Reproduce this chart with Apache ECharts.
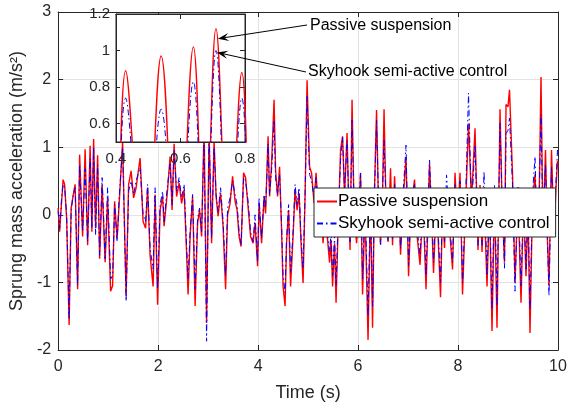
<!DOCTYPE html>
<html>
<head>
<meta charset="utf-8">
<script src="https://cdn.jsdelivr.net/npm/echarts@6/dist/echarts.min.js"></script>
<style>
  html, body { margin: 0; padding: 0; background: #fff; }
  #chart { width: 571px; height: 408px; }
</style>
</head>
<body>
<div id="chart"></div>
<script>
// time (s) at the peaks / troughs
const time = [
  0.00, 0.03, 0.07, 0.10, 0.13, 0.17, 0.22, 0.26, 0.30, 0.34, 0.39, 0.43, 0.49, 0.54, 0.59, 0.64, 0.675, 0.71, 0.75, 0.79,
  0.83, 0.88, 0.94, 0.99, 1.05, 1.09, 1.13, 1.18, 1.22, 1.29, 1.36, 1.41, 1.46, 1.51, 1.56, 1.64, 1.70, 1.75, 1.79, 1.84,
  1.90, 1.94, 1.99, 2.04, 2.09, 2.12, 2.19, 2.24, 2.28, 2.32, 2.37, 2.42, 2.47, 2.52, 2.57, 2.60, 2.64, 2.69, 2.74, 2.79,
  2.83, 2.87, 2.92, 2.97, 3.02, 3.07, 3.12, 3.16, 3.20, 3.25, 3.30, 3.35, 3.39, 3.44, 3.49, 3.54, 3.58, 3.62, 3.66, 3.71,
  3.75, 3.80, 3.85, 3.90, 3.94, 3.99, 4.02, 4.07, 4.12, 4.15, 4.20, 4.23, 4.27, 4.32, 4.35, 4.39, 4.43, 4.47, 4.50, 4.54,
  4.57, 4.61, 4.65, 4.70, 4.74, 4.78, 4.82, 4.86, 4.90, 4.94, 4.98, 5.03, 5.07, 5.12, 5.16, 5.21, 5.25, 5.30, 5.34, 5.39,
  5.43, 5.46, 5.49, 5.53, 5.56, 5.60, 5.65, 5.69, 5.73, 5.78, 5.81, 5.84, 5.88, 5.92, 5.97, 6.01, 6.05, 6.09, 6.14, 6.20,
  6.25, 6.29, 6.33, 6.37, 6.41, 6.45, 6.49, 6.52, 6.56, 6.60, 6.65, 6.69, 6.73, 6.78, 6.81, 6.85, 6.90, 6.96, 7.01, 7.06,
  7.13, 7.18, 7.24, 7.30, 7.36, 7.43, 7.48, 7.51, 7.56, 7.60, 7.65, 7.69, 7.73, 7.77, 7.82, 7.89, 7.94, 7.99, 8.04, 8.09,
  8.15, 8.21, 8.27, 8.34, 8.40, 8.44, 8.48, 8.52, 8.58, 8.63, 8.68, 8.73, 8.78, 8.84, 8.88, 8.93, 8.96, 9.00, 9.03, 9.09,
  9.14, 9.20, 9.26, 9.31, 9.36, 9.40, 9.44, 9.49, 9.54, 9.58, 9.62, 9.66, 9.70, 9.75, 9.79, 9.82, 9.87, 9.92, 9.96, 9.99,
  10.0
];
// passive suspension (m/s^2)
const passive = [
  0.10, -0.25, 0.20, 0.52, 0.45, -0.05, -1.63, 0.10, 0.28, 0.45, -1.10, 0.89, -0.32, 0.97, -0.45, 1.02, -0.25, 1.12, -0.20, 0.88,
  -0.65, 0.45, -0.70, 0.25, -1.13, -1.05, 0.20, -0.35, 0.15, 1.08, -1.20, 0.45, 0.65, 0.25, 0.40, 0.84, -0.10, -0.20, 0.40, -0.60,
  -1.06, 0.30, -1.33, 0.07, 0.27, -0.17, 0.37, 0.86, 0.07, 1.05, 0.27, 0.47, 0.17, 0.37, -0.57, -1.18, -0.32, 0.27, -1.35, -0.12,
  0.07, -0.32, 1.30, -1.60, 1.20, -0.42, 1.10, 0.27, -0.02, 0.32, -0.17, -1.10, 0.00, 0.17, 0.57, 0.20, 0.07, -0.32, -0.47, 0.62,
  0.55, 0.12, -0.32, -0.42, -0.12, -0.76, 0.17, -0.42, 0.27, 0.02, 1.16, 0.27, 0.76, 1.70, 0.66, 0.27, 0.71, -0.22, -1.06, -1.35,
  -0.42, 0.07, -1.06, -0.32, 0.37, 0.07, 0.32, -0.42, -1.01, 0.27, 1.99, 0.71, 0.62, 0.17, 0.62, 0.02, 0.27, -0.42, 0.00, -0.37,
  -0.71, -0.37, -1.06, -0.42, -1.30, -0.22, 0.96, 1.16, 0.27, 1.21, 0.27, -0.52, 1.70, 0.07, -0.42, -0.02, 0.62, -1.18, 0.10, -1.85,
  0.20, -1.67, 0.40, 1.55, 0.10, -0.44, 0.30, 1.56, 0.10, -0.40, 0.69, -0.45, 0.57, -0.20, 0.30, -0.59, 0.20, 0.85, -0.91, 0.10,
  0.52, -0.30, -0.74, 0.20, -1.10, 0.76, -0.20, -0.86, 0.10, -0.30, -1.22, 0.10, -0.49, 0.40, -0.10, -0.81, 0.62, -0.20, 0.62, -1.18,
  0.10, 1.35, 0.20, 1.28, -0.52, 0.44, -0.55, 0.30, -1.06, 0.20, -1.72, 0.30, -1.67, 1.56, 0.20, -0.70, 1.63, 1.60, 1.85, 0.60,
  -1.00, 0.30, -1.30, 0.20, -0.91, 0.10, -1.75, 0.20, 0.60, -0.30, 0.10, 2.04, -0.30, 0.96, -0.40, -1.05, 0.96, -0.30, 0.40, 0.80,
  0.70
];
// skyhook semi-active control (m/s^2)
const skyhook = [
  0.05, -0.20, 0.25, 0.45, 0.40, 0.00, -1.55, 0.05, 0.30, 0.40, -1.05, 0.74, -0.25, 0.68, -0.40, 0.83, -0.20, 1.00, -0.30, 0.74,
  -0.60, 0.55, -0.65, 0.40, -0.95, -0.90, 0.15, -0.40, 0.25, 1.00, -1.28, 0.35, 0.50, 0.30, 0.50, 0.70, 0.00, -0.10, 0.45, -0.50,
  -0.80, 0.40, -1.10, 0.15, 0.35, -0.10, 0.45, 0.75, 0.15, 0.95, 0.35, 0.55, 0.25, 0.45, -0.45, -0.95, -0.25, 0.30, -1.10, -0.05,
  0.10, -0.25, 1.15, -1.87, 1.25, -0.35, 1.00, 0.30, 0.05, 0.40, -0.10, -0.90, 0.10, 0.25, 0.50, 0.30, 0.15, -0.25, -0.45, 0.55,
  0.50, 0.20, -0.25, -0.40, 0.00, -0.70, 0.25, -0.35, 0.30, 0.10, 1.05, 0.30, 0.65, 1.40, 0.55, 0.30, 0.60, -0.15, -0.90, -1.15,
  -0.35, 0.15, -0.85, -0.25, 0.45, 0.15, 0.40, -0.35, -0.80, 0.30, 1.75, 0.60, 0.50, 0.25, 0.55, 0.10, 0.35, -0.30, 0.10, -0.30,
  -0.55, -0.25, -0.90, -0.30, -1.05, -0.10, 0.80, 1.15, 0.35, 1.10, 0.30, -0.40, 1.40, 0.15, -0.30, 0.05, 0.62, -0.95, 0.20, -1.50,
  0.25, -1.35, 0.35, 1.40, 0.20, -0.44, 0.35, 1.10, 0.20, -0.40, 0.40, -0.35, 0.45, -0.10, 0.35, -0.50, 0.30, 1.03, -0.75, 0.20,
  0.45, -0.20, -0.60, 0.25, -0.90, 0.81, -0.10, -0.70, 0.20, -0.20, -1.00, 0.20, -0.40, 0.59, 0.00, -0.70, 0.45, -0.10, 0.50, -1.00,
  0.20, 1.80, 0.10, 1.03, -0.45, 0.35, -0.45, 0.64, -0.90, 0.25, -1.40, 0.45, -1.35, 1.35, 0.25, -0.79, 1.20, 1.25, 1.43, 0.45,
  -1.13, 0.43, -1.05, 0.25, -0.80, 0.15, -1.40, 0.30, 0.86, -0.20, 0.20, 1.48, -0.20, 0.75, -0.40, -1.20, 0.70, -0.20, 0.50, 0.96,
  0.90
];
// tick labels
const mainXTicks = [0, 2, 4, 6, 8, 10];
const mainYTicks = [-2, -1, 0, 1, 2, 3];
const insetXTicks = [0.4, 0.6, 0.8];
const insetYTicks = [0.6, 0.8, 1, 1.2];

const seriesNames = ["Passive suspension", "Skyhook semi-active control"];

const passiveData = time.map((t, i) => [t, passive[i]]);
const skyhookData = time.map((t, i) => [t, skyhook[i]]);

const axisColor = "#262626";
const font = "Liberation Sans, Arial, Helvetica, sans-serif";
const dashDot = [6, 3, 1.5, 3];

// one box side of a grid: line + inward ticks, no labels
function sideAxis(gridIndex, position, min, max, ticks, z) {
  return {
    gridIndex: gridIndex,
    position: position,
    type: "value",
    min: min,
    max: max,
    z: z,
    axisLine: { show: true, onZero: false, lineStyle: { color: axisColor, width: 1 } },
    axisTick: { show: true, inside: true, length: 5, customValues: ticks, lineStyle: { color: axisColor } },
    axisLabel: { show: false },
    splitLine: { show: false },
  };
}

let myChart = echarts.init(document.getElementById("chart"), null, { renderer: "canvas" });

const option = {
  animation: false,
  backgroundColor: "#fff",
  textStyle: { fontFamily: font },
  grid: [
    { left: 57, right: 13, top: 12, bottom: 58, containLabel: false },
    // inset (zoom of 0.4 - 0.8 s)
    {
      left: 116, right: 326, top: 14, bottom: 266,
      show: true, backgroundColor: "#fff", borderColor: axisColor, borderWidth: 1, z: 10,
    },
  ],
  legend: {
    data: seriesNames,
    orient: "vertical",
    left: 314,
    top: 188,
    padding: [5, 6, 5, 2],
    itemGap: 5,
    itemWidth: 20,
    itemHeight: 14,
    // only the line sample, no marker dot
    itemStyle: { opacity: 0 },
    backgroundColor: "#fff",
    borderColor: axisColor,
    borderWidth: 1,
    borderRadius: 0,
    textStyle: { fontSize: 17, color: "#000", fontFamily: font, padding: [0, 0, 0, -4] },
    z: 20,
  },
  xAxis: [
    {
      gridIndex: 0,
      type: "value",
      min: 0,
      max: 10,
      interval: 2,
      name: "Time (s)",
      nameLocation: "middle",
      nameGap: 34,
      nameTextStyle: { fontSize: 18, color: axisColor, fontFamily: font },
      axisLine: { show: true, onZero: false, lineStyle: { color: axisColor } },
      axisTick: { show: true, inside: true, length: 5, lineStyle: { color: axisColor } },
      axisLabel: { fontSize: 16, color: axisColor, margin: 9, fontFamily: font },
      splitLine: { show: true, lineStyle: { color: "#e3e3e3", width: 1 } },
    },
    sideAxis(0, "top", 0, 10, mainXTicks, 2),
    {
      gridIndex: 1,
      type: "value",
      min: 0.4,
      max: 0.8,
      interval: 0.2,
      z: 11,
      axisLine: { show: true, onZero: false, lineStyle: { color: axisColor } },
      axisTick: { show: true, inside: true, length: 4, lineStyle: { color: axisColor } },
      axisLabel: { fontSize: 15, color: axisColor, margin: 9, fontFamily: font,
        showMinLabel: true, showMaxLabel: true, customValues: insetXTicks },
      splitLine: { show: false },
    },
    sideAxis(1, "top", 0.4, 0.8, insetXTicks, 11),
  ],
  yAxis: [
    {
      gridIndex: 0,
      type: "value",
      min: -2,
      max: 3,
      interval: 1,
      name: "Sprung mass acceleration (m/s²)",
      nameLocation: "middle",
      nameGap: 31,
      nameTextStyle: { fontSize: 18, color: axisColor, fontFamily: font },
      axisLine: { show: true, onZero: false, lineStyle: { color: axisColor } },
      axisTick: { show: true, inside: true, length: 5, lineStyle: { color: axisColor } },
      axisLabel: { fontSize: 16, color: axisColor, margin: 7, fontFamily: font },
      splitLine: { show: true, lineStyle: { color: "#e3e3e3", width: 1 } },
    },
    sideAxis(0, "right", -2, 3, mainYTicks, 2),
    {
      gridIndex: 1,
      type: "value",
      min: 0.5,
      max: 1.2,
      z: 11,
      axisLine: { show: true, onZero: false, lineStyle: { color: axisColor } },
      axisTick: { show: true, inside: true, length: 4, customValues: insetYTicks, lineStyle: { color: axisColor } },
      axisLabel: { fontSize: 15, color: axisColor, margin: 6, fontFamily: font, customValues: insetYTicks },
      splitLine: { show: false },
    },
    sideAxis(1, "right", 0.5, 1.2, insetYTicks, 11),
  ],
  series: [
    {
      name: seriesNames[0],
      type: "line",
      xAxisIndex: 0,
      yAxisIndex: 0,
      data: passiveData,
      symbol: "none",
      lineStyle: { color: "#ff0000", width: 1.4 },
      itemStyle: { color: "#ff0000" },
      z: 3,
    },
    {
      name: seriesNames[1],
      type: "line",
      xAxisIndex: 0,
      yAxisIndex: 0,
      data: skyhookData,
      symbol: "none",
      lineStyle: { color: "#0000ff", width: 1, type: dashDot },
      itemStyle: { color: "#0000ff" },
      z: 4,
    },
    // same data again, drawn inside the inset
    {
      name: seriesNames[0],
      type: "line",
      xAxisIndex: 2,
      yAxisIndex: 2,
      data: passiveData,
      symbol: "none",
      smooth: 0.4,
      clip: true,
      lineStyle: { color: "#ff0000", width: 1.4 },
      z: 12,
    },
    {
      name: seriesNames[1],
      type: "line",
      xAxisIndex: 2,
      yAxisIndex: 2,
      data: skyhookData,
      symbol: "none",
      smooth: 0.4,
      clip: true,
      lineStyle: { color: "#0000ff", width: 1, type: dashDot },
      z: 13,
    },
  ],
};

myChart.setOption(option);

// annotation arrows: heads sit on the inset peaks, tails at the texts
function arrow(tail, head) {
  const dx = head[0] - tail[0];
  const dy = head[1] - tail[1];
  const len = Math.sqrt(dx * dx + dy * dy);
  const ux = dx / len, uy = dy / len;
  const L = 11, W = 4;
  const bx = head[0] - ux * L, by = head[1] - uy * L;
  const mx = head[0] - ux * L * 0.6, my = head[1] - uy * L * 0.6;
  return [
    { type: "line", z: 30, shape: { x1: tail[0], y1: tail[1], x2: mx, y2: my },
      style: { stroke: "#000", lineWidth: 1 } },
    { type: "polygon", z: 30,
      shape: { points: [head, [bx - uy * W, by + ux * W], [mx, my], [bx + uy * W, by - ux * W]] },
      style: { fill: "#000" } },
  ];
}

const head1 = myChart.convertToPixel({ gridIndex: 1 }, [0.716, 1.065]);
const head2 = myChart.convertToPixel({ gridIndex: 1 }, [0.713, 0.99]);

myChart.setOption({
  graphic: [].concat(
    arrow([307, 25], head1),
    arrow([306, 72], head2),
    [
      { type: "text", z: 30, left: 310, top: 18,
        style: { text: seriesNames[0], fontSize: 16, fill: "#000", fontFamily: font } },
      { type: "text", z: 30, left: 308, top: 64,
        style: { text: seriesNames[1], fontSize: 16, fill: "#000", fontFamily: font } },
    ]
  ),
});

window.addEventListener("resize", function () {
  myChart.resize();
});
</script>
</body>
</html>
